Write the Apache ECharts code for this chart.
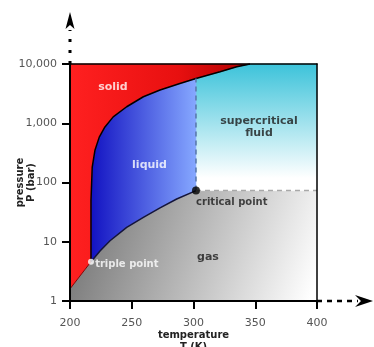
<!DOCTYPE html>
<html><head><meta charset="utf-8">
<script src="https://cdn.jsdelivr.net/npm/echarts@6/dist/echarts.min.js"></script>
<style>html,body{margin:0;padding:0;background:#fff}#c{width:374px;height:347px}</style>
</head><body><div id="c"></div>
<script>
// ---- data ----
const xTicks = [200, 250, 300, 350, 400];
const yTickLabels = ['1', '10', '100', '1,000', '10,000'];
const triplePoint = [217, 4.6];
const criticalPoint = [302, 73];
const sublimationCurve = [[200, 1.6], [217, 4.6]];
const meltingCurve = [[217, 4.6], [217, 11.8], [217, 49.5], [218, 182], [220.2, 350], [223.7, 583], [228.3, 866], [235, 1280], [245.9, 1900], [259.4, 2800], [272.9, 3640], [289, 4700], [302, 5700], [321.5, 7400], [335, 8960], [345.7, 10000]];
const vaporCurve = [[217, 4.6], [224.3, 7.0], [232.4, 10.4], [245.9, 17.5], [259.4, 25.8], [272.9, 37.3], [286.4, 52.7], [302, 73]];
const criticalIsotherm = [[302, 73], [302, 5700]];
const criticalIsobar = [[302, 73], [400, 73]];
const regionLabels = ['solid', 'liquid', 'supercritical\nfluid', 'critical point', 'gas', 'triple point'];
const regionLabelPos = [[234.8, 4070], [264.4, 194], [353, 860], [331, 46], [311.7, 5.4], [246, 4.2]];

const T0 = 200, T1 = 400, P0 = 1, P1 = 10000;
const iCrit = meltingCurve.findIndex(p => p[0] >= criticalPoint[0]);

const solidPoly = [[T0, P1]].concat(meltingCurve.slice().reverse(), sublimationCurve.slice().reverse());
const liquidPoly = meltingCurve.slice(0, iCrit + 1).concat(vaporCurve.slice().reverse());
const superPoly = [criticalPoint, [T1, criticalPoint[1]], [T1, P1]].concat(meltingCurve.slice(iCrit).reverse());
const gasPoly = [[T0, P0]].concat(sublimationCurve, vaporCurve.slice(1), [[T1, criticalPoint[1]], [T1, P0]]);

const G = echarts.graphic.LinearGradient;
function polySeries(poly, fill) {
  return {
    type: 'custom', coordinateSystem: 'cartesian2d', z: 1, silent: true,
    data: [0],
    renderItem: function (params, api) {
      return { type: 'polygon', shape: { points: poly.map(p => api.coord(p)) }, style: { fill: fill, stroke: fill, lineWidth: 0.5 } };
    }
  };
}
const font = '"DejaVu Sans", sans-serif';
function lineSeries(data, color, width, type) {
  return { type: 'line', data: data, showSymbol: false, symbol: 'none', z: 3, silent: true,
    lineStyle: { color: color, width: width, type: type || 'solid' } };
}

const chart = echarts.init(document.getElementById('c'));
const L = 70, R = 317, TOP = 64, BOT = 301;
chart.setOption({
  animation: false,
  grid: { left: L, right: 374 - R, top: TOP, bottom: 347 - BOT, containLabel: false, outerBoundsMode: 'none' },
  xAxis: [{
    type: 'value', min: T0, max: T1, interval: 50, z: 10,
    axisLine: { lineStyle: { color: '#000', width: 2 } },
    axisTick: { length: 8, lineStyle: { color: '#000', width: 2 } },
    axisLabel: { color: '#555', fontFamily: font, fontSize: 11, margin: 17,
      formatter: v => (xTicks.indexOf(v) >= 0 ? String(v) : '') },
    splitLine: { show: false },
    name: 'temperature\nT (K)', nameLocation: 'middle', nameGap: 28, nameMoveOverlap: false,
    nameTextStyle: { color: '#222', fontFamily: font, fontWeight: 'bold', fontSize: 10, lineHeight: 12, verticalAlign: 'top' }
  }, {
    type: 'value', min: T0, max: T1, position: 'top', z: 10,
    axisLine: { show: true, lineStyle: { color: '#000', width: 1.5 } },
    axisTick: { show: false }, axisLabel: { show: false }, splitLine: { show: false }
  }],
  yAxis: [{
    type: 'log', logBase: 10, min: P0, max: P1, z: 10,
    axisLine: { lineStyle: { color: '#000', width: 2 } },
    axisTick: { length: 8, lineStyle: { color: '#000', width: 2 } },
    axisLabel: { color: '#555', fontFamily: font, fontSize: 11, margin: 13,
      formatter: v => yTickLabels[Math.round(Math.log10(v))] },
    splitLine: { show: false }, minorTick: { show: false },
    name: 'pressure\nP (bar)', nameLocation: 'middle', nameGap: 33, nameRotate: 90, nameMoveOverlap: false,
    nameTextStyle: { color: '#222', fontFamily: font, fontWeight: 'bold', fontSize: 10, lineHeight: 11 }
  }, {
    type: 'log', logBase: 10, min: P0, max: P1, position: 'right', z: 10,
    axisLine: { show: true, lineStyle: { color: '#000', width: 1.5 } },
    axisTick: { show: false }, axisLabel: { show: false }, splitLine: { show: false }
  }],
  graphic: [
    { type: 'line', shape: { x1: L, y1: TOP, x2: L, y2: 30 }, style: { stroke: '#000', lineWidth: 3, lineDash: [3, 8] }, z: 20 },
    { type: 'polygon', shape: { points: [[L, 12], [L - 4.5, 29], [L, 25], [L + 4.5, 29]] }, style: { fill: '#000' }, z: 20 },
    { type: 'line', shape: { x1: R, y1: BOT, x2: 358, y2: BOT }, style: { stroke: '#000', lineWidth: 2.5, lineDash: [5, 5] }, z: 20 },
    { type: 'polygon', shape: { points: [[373, BOT], [355, BOT - 6], [361, BOT], [355, BOT + 6]] }, style: { fill: '#000' }, z: 20 }
  ],
  series: [
    polySeries(gasPoly, new G(0, 0, 1, 0.8, [{ offset: 0, color: '#6c6c6c' }, { offset: 1, color: '#ffffff' }])),
    polySeries(superPoly, new G(0, 0, 0, 1, [{ offset: 0, color: '#3cc3da' }, { offset: 0.9, color: '#ffffff' }, { offset: 1, color: '#ffffff' }])),
    polySeries(liquidPoly, new G(0, 0, 1, 0, [{ offset: 0, color: '#1212c2' }, { offset: 1, color: '#86a8ff' }])),
    polySeries(solidPoly, new G(0, 0, 1, 0, [{ offset: 0, color: '#ff2020' }, { offset: 0.6, color: '#e81010' }, { offset: 1, color: '#b00000' }])),
    lineSeries(meltingCurve, '#000', 1.5),
    lineSeries(vaporCurve, '#15153a', 1.5),
    lineSeries(sublimationCurve, '#5a0000', 0.8),
    lineSeries(criticalIsotherm, '#5677a8', 1.5, [5, 4]),
    lineSeries(criticalIsobar, '#a8a8a8', 1.5, [5, 4]),
    { type: 'scatter', z: 5, silent: true, data: [criticalPoint], symbolSize: 8, itemStyle: { color: '#000' } },
    { type: 'scatter', z: 5, silent: true, data: [triplePoint], symbolSize: 6, itemStyle: { color: '#fff' } },
    { type: 'scatter', z: 6, silent: true, symbolSize: 0,
      data: regionLabels.map((n, i) => {
        const dark = (i === 2 || i === 3 || i === 4);
        return { name: n, value: regionLabelPos[i],
          label: { show: true, position: 'inside', formatter: '{b}', color: dark ? '#1c1c1c' : '#ffffff',
            fontFamily: font, fontWeight: 'bold', fontSize: (i === 3 || i === 5) ? 10 : 11, lineHeight: 12, align: 'center', verticalAlign: 'middle' } };
      }) }
  ]
});
</script></body></html>
